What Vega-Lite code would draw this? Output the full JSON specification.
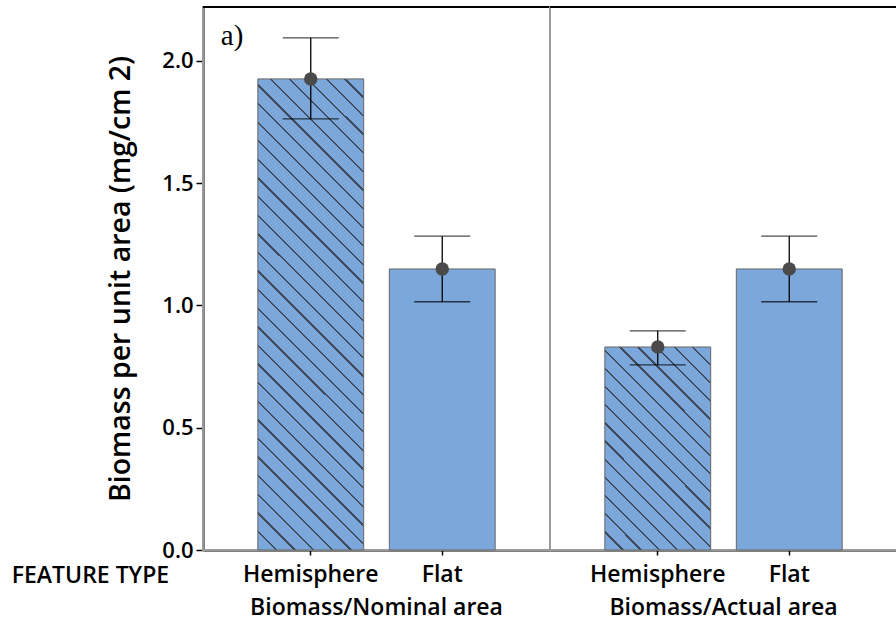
{
  "$schema": "https://vega.github.io/schema/vega-lite/v6.json",
  "padding": {"left": 10, "top": 5, "right": 0, "bottom": 5},
  "bounds": "flush",
  "data": {"values": [
    {"group": "Biomass/Nominal area", "type": "Hemisphere", "mean": 1.926, "lower": 1.763, "upper": 2.094},
    {"group": "Biomass/Nominal area", "type": "Flat", "mean": 1.149, "lower": 1.015, "upper": 1.283},
    {"group": "Biomass/Actual area", "type": "Hemisphere", "mean": 0.830, "lower": 0.757, "upper": 0.896},
    {"group": "Biomass/Actual area", "type": "Flat", "mean": 1.149, "lower": 1.015, "upper": 1.283}
  ]},
  "facet": {"column": {"field": "group", "type": "nominal", "sort": ["Biomass/Nominal area", "Biomass/Actual area"],
    "header": {"labelOrient": "bottom", "title": null, "labelFont": "Open Sans", "labelFontSize": 23, "labelFontWeight": 600, "labelColor": "black", "labelPadding": 11}}},
  "spacing": 0,
  "spec": {
    "width": 347,
    "height": 543,
    "encoding": {
      "x": {"field": "type", "type": "nominal", "sort": ["Hemisphere", "Flat"], "title": null,
        "scale": {"paddingInner": 0.195, "paddingOuter": 0.417}}
    },
    "layer": [
      {"transform": [{"filter": "datum.type === 'Flat'"}],
       "mark": {"type": "bar", "fill": "#7BA7DA", "stroke": "#666666", "strokeWidth": 1},
       "encoding": {"y": {"field": "mean", "type": "quantitative", "title": "Biomass per unit area (mg/cm 2)",
         "scale": {"domain": [0, 2.22], "nice": false}, "axis": {"values": [0, 0.5, 1, 1.5, 2], "format": ".1f"}}}},
      {"transform": [{"filter": "datum.type === 'Hemisphere' && datum.group === 'Biomass/Nominal area'"}],
       "mark": {"type": "bar", "stroke": "#666666", "strokeWidth": 1,
         "fill": {"gradient": "linear", "x1": 0, "y1": 1, "x2": 0.2617, "y2": -0.1656, "stops": [
{"offset":0,"color":"#7BA7DA"},
{"offset":0.0303,"color":"#7BA7DA"},{"offset":0.0303,"color":"#3E4A5E"},{"offset":0.0343,"color":"#3E4A5E"},{"offset":0.0343,"color":"#7BA7DA"},
{"offset":0.0625,"color":"#7BA7DA"},{"offset":0.0625,"color":"#3E4A5E"},{"offset":0.0665,"color":"#3E4A5E"},{"offset":0.0665,"color":"#7BA7DA"},
{"offset":0.0948,"color":"#7BA7DA"},{"offset":0.0948,"color":"#3E4A5E"},{"offset":0.0988,"color":"#3E4A5E"},{"offset":0.0988,"color":"#7BA7DA"},
{"offset":0.1270,"color":"#7BA7DA"},{"offset":0.1270,"color":"#3E4A5E"},{"offset":0.1310,"color":"#3E4A5E"},{"offset":0.1310,"color":"#7BA7DA"},
{"offset":0.1593,"color":"#7BA7DA"},{"offset":0.1593,"color":"#3E4A5E"},{"offset":0.1633,"color":"#3E4A5E"},{"offset":0.1633,"color":"#7BA7DA"},
{"offset":0.1915,"color":"#7BA7DA"},{"offset":0.1915,"color":"#3E4A5E"},{"offset":0.1955,"color":"#3E4A5E"},{"offset":0.1955,"color":"#7BA7DA"},
{"offset":0.2238,"color":"#7BA7DA"},{"offset":0.2238,"color":"#3E4A5E"},{"offset":0.2278,"color":"#3E4A5E"},{"offset":0.2278,"color":"#7BA7DA"},
{"offset":0.2561,"color":"#7BA7DA"},{"offset":0.2561,"color":"#3E4A5E"},{"offset":0.2601,"color":"#3E4A5E"},{"offset":0.2601,"color":"#7BA7DA"},
{"offset":0.2883,"color":"#7BA7DA"},{"offset":0.2883,"color":"#3E4A5E"},{"offset":0.2923,"color":"#3E4A5E"},{"offset":0.2923,"color":"#7BA7DA"},
{"offset":0.3206,"color":"#7BA7DA"},{"offset":0.3206,"color":"#3E4A5E"},{"offset":0.3246,"color":"#3E4A5E"},{"offset":0.3246,"color":"#7BA7DA"},
{"offset":0.3528,"color":"#7BA7DA"},{"offset":0.3528,"color":"#3E4A5E"},{"offset":0.3568,"color":"#3E4A5E"},{"offset":0.3568,"color":"#7BA7DA"},
{"offset":0.3851,"color":"#7BA7DA"},{"offset":0.3851,"color":"#3E4A5E"},{"offset":0.3891,"color":"#3E4A5E"},{"offset":0.3891,"color":"#7BA7DA"},
{"offset":0.4174,"color":"#7BA7DA"},{"offset":0.4174,"color":"#3E4A5E"},{"offset":0.4214,"color":"#3E4A5E"},{"offset":0.4214,"color":"#7BA7DA"},
{"offset":0.4496,"color":"#7BA7DA"},{"offset":0.4496,"color":"#3E4A5E"},{"offset":0.4536,"color":"#3E4A5E"},{"offset":0.4536,"color":"#7BA7DA"},
{"offset":0.4819,"color":"#7BA7DA"},{"offset":0.4819,"color":"#3E4A5E"},{"offset":0.4859,"color":"#3E4A5E"},{"offset":0.4859,"color":"#7BA7DA"},
{"offset":0.5141,"color":"#7BA7DA"},{"offset":0.5141,"color":"#3E4A5E"},{"offset":0.5181,"color":"#3E4A5E"},{"offset":0.5181,"color":"#7BA7DA"},
{"offset":0.5464,"color":"#7BA7DA"},{"offset":0.5464,"color":"#3E4A5E"},{"offset":0.5504,"color":"#3E4A5E"},{"offset":0.5504,"color":"#7BA7DA"},
{"offset":0.5786,"color":"#7BA7DA"},{"offset":0.5786,"color":"#3E4A5E"},{"offset":0.5826,"color":"#3E4A5E"},{"offset":0.5826,"color":"#7BA7DA"},
{"offset":0.6109,"color":"#7BA7DA"},{"offset":0.6109,"color":"#3E4A5E"},{"offset":0.6149,"color":"#3E4A5E"},{"offset":0.6149,"color":"#7BA7DA"},
{"offset":0.6432,"color":"#7BA7DA"},{"offset":0.6432,"color":"#3E4A5E"},{"offset":0.6472,"color":"#3E4A5E"},{"offset":0.6472,"color":"#7BA7DA"},
{"offset":0.6754,"color":"#7BA7DA"},{"offset":0.6754,"color":"#3E4A5E"},{"offset":0.6794,"color":"#3E4A5E"},{"offset":0.6794,"color":"#7BA7DA"},
{"offset":0.7077,"color":"#7BA7DA"},{"offset":0.7077,"color":"#3E4A5E"},{"offset":0.7117,"color":"#3E4A5E"},{"offset":0.7117,"color":"#7BA7DA"},
{"offset":0.7399,"color":"#7BA7DA"},{"offset":0.7399,"color":"#3E4A5E"},{"offset":0.7439,"color":"#3E4A5E"},{"offset":0.7439,"color":"#7BA7DA"},
{"offset":0.7722,"color":"#7BA7DA"},{"offset":0.7722,"color":"#3E4A5E"},{"offset":0.7762,"color":"#3E4A5E"},{"offset":0.7762,"color":"#7BA7DA"},
{"offset":0.8045,"color":"#7BA7DA"},{"offset":0.8045,"color":"#3E4A5E"},{"offset":0.8085,"color":"#3E4A5E"},{"offset":0.8085,"color":"#7BA7DA"},
{"offset":0.8367,"color":"#7BA7DA"},{"offset":0.8367,"color":"#3E4A5E"},{"offset":0.8407,"color":"#3E4A5E"},{"offset":0.8407,"color":"#7BA7DA"},
{"offset":0.8690,"color":"#7BA7DA"},{"offset":0.8690,"color":"#3E4A5E"},{"offset":0.8730,"color":"#3E4A5E"},{"offset":0.8730,"color":"#7BA7DA"},
{"offset":0.9012,"color":"#7BA7DA"},{"offset":0.9012,"color":"#3E4A5E"},{"offset":0.9052,"color":"#3E4A5E"},{"offset":0.9052,"color":"#7BA7DA"},
{"offset":0.9335,"color":"#7BA7DA"},{"offset":0.9335,"color":"#3E4A5E"},{"offset":0.9375,"color":"#3E4A5E"},{"offset":0.9375,"color":"#7BA7DA"},
{"offset":0.9657,"color":"#7BA7DA"},{"offset":0.9657,"color":"#3E4A5E"},{"offset":0.9697,"color":"#3E4A5E"},{"offset":0.9697,"color":"#7BA7DA"},
{"offset":1,"color":"#7BA7DA"}]}},
       "encoding": {"y": {"field": "mean", "type": "quantitative", "title": "Biomass per unit area (mg/cm 2)"}}},
      {"transform": [{"filter": "datum.type === 'Hemisphere' && datum.group === 'Biomass/Actual area'"}],
       "mark": {"type": "bar", "stroke": "#666666", "strokeWidth": 1,
         "fill": {"gradient": "linear", "x1": 0, "y1": 1, "x2": 0.6245, "y2": -0.1961, "stops": [
{"offset":0,"color":"#7BA7DA"},
{"offset":0.0551,"color":"#7BA7DA"},{"offset":0.0551,"color":"#3E4A5E"},{"offset":0.0625,"color":"#3E4A5E"},{"offset":0.0625,"color":"#7BA7DA"},
{"offset":0.1139,"color":"#7BA7DA"},{"offset":0.1139,"color":"#3E4A5E"},{"offset":0.1213,"color":"#3E4A5E"},{"offset":0.1213,"color":"#7BA7DA"},
{"offset":0.1728,"color":"#7BA7DA"},{"offset":0.1728,"color":"#3E4A5E"},{"offset":0.1802,"color":"#3E4A5E"},{"offset":0.1802,"color":"#7BA7DA"},
{"offset":0.2316,"color":"#7BA7DA"},{"offset":0.2316,"color":"#3E4A5E"},{"offset":0.2390,"color":"#3E4A5E"},{"offset":0.2390,"color":"#7BA7DA"},
{"offset":0.2904,"color":"#7BA7DA"},{"offset":0.2904,"color":"#3E4A5E"},{"offset":0.2978,"color":"#3E4A5E"},{"offset":0.2978,"color":"#7BA7DA"},
{"offset":0.3492,"color":"#7BA7DA"},{"offset":0.3492,"color":"#3E4A5E"},{"offset":0.3566,"color":"#3E4A5E"},{"offset":0.3566,"color":"#7BA7DA"},
{"offset":0.4081,"color":"#7BA7DA"},{"offset":0.4081,"color":"#3E4A5E"},{"offset":0.4155,"color":"#3E4A5E"},{"offset":0.4155,"color":"#7BA7DA"},
{"offset":0.4669,"color":"#7BA7DA"},{"offset":0.4669,"color":"#3E4A5E"},{"offset":0.4743,"color":"#3E4A5E"},{"offset":0.4743,"color":"#7BA7DA"},
{"offset":0.5257,"color":"#7BA7DA"},{"offset":0.5257,"color":"#3E4A5E"},{"offset":0.5331,"color":"#3E4A5E"},{"offset":0.5331,"color":"#7BA7DA"},
{"offset":0.5845,"color":"#7BA7DA"},{"offset":0.5845,"color":"#3E4A5E"},{"offset":0.5919,"color":"#3E4A5E"},{"offset":0.5919,"color":"#7BA7DA"},
{"offset":0.6434,"color":"#7BA7DA"},{"offset":0.6434,"color":"#3E4A5E"},{"offset":0.6508,"color":"#3E4A5E"},{"offset":0.6508,"color":"#7BA7DA"},
{"offset":0.7022,"color":"#7BA7DA"},{"offset":0.7022,"color":"#3E4A5E"},{"offset":0.7096,"color":"#3E4A5E"},{"offset":0.7096,"color":"#7BA7DA"},
{"offset":0.7610,"color":"#7BA7DA"},{"offset":0.7610,"color":"#3E4A5E"},{"offset":0.7684,"color":"#3E4A5E"},{"offset":0.7684,"color":"#7BA7DA"},
{"offset":0.8198,"color":"#7BA7DA"},{"offset":0.8198,"color":"#3E4A5E"},{"offset":0.8272,"color":"#3E4A5E"},{"offset":0.8272,"color":"#7BA7DA"},
{"offset":0.8787,"color":"#7BA7DA"},{"offset":0.8787,"color":"#3E4A5E"},{"offset":0.8861,"color":"#3E4A5E"},{"offset":0.8861,"color":"#7BA7DA"},
{"offset":0.9375,"color":"#7BA7DA"},{"offset":0.9375,"color":"#3E4A5E"},{"offset":0.9449,"color":"#3E4A5E"},{"offset":0.9449,"color":"#7BA7DA"},
{"offset":1,"color":"#7BA7DA"}]}},
       "encoding": {"y": {"field": "mean", "type": "quantitative", "title": "Biomass per unit area (mg/cm 2)"}}},
      {"mark": {"type": "rule", "color": "black", "strokeWidth": 2},
       "encoding": {"x": null, "y": {"datum": 2.22}}},
      {"mark": {"type": "rule", "color": "black", "strokeWidth": 1.3},
       "encoding": {"y": {"field": "lower", "type": "quantitative", "title": "Biomass per unit area (mg/cm 2)"}, "y2": {"field": "upper"}}},
      {"mark": {"type": "tick", "color": "black", "orient": "horizontal", "size": 56, "thickness": 1.3},
       "encoding": {"y": {"field": "upper", "type": "quantitative", "title": "Biomass per unit area (mg/cm 2)"}}},
      {"mark": {"type": "tick", "color": "black", "orient": "horizontal", "size": 56, "thickness": 1.3},
       "encoding": {"y": {"field": "lower", "type": "quantitative", "title": "Biomass per unit area (mg/cm 2)"}}},
      {"mark": {"type": "point", "shape": "circle", "filled": true, "size": 180, "color": "#4A4A4A", "opacity": 1},
       "encoding": {"y": {"field": "mean", "type": "quantitative", "title": "Biomass per unit area (mg/cm 2)"}}},
      {"transform": [{"filter": "datum.type === 'Hemisphere' && datum.group === 'Biomass/Nominal area'"}],
       "mark": {"type": "text", "text": "a)", "font": "Liberation Serif", "fontSize": 29, "align": "left", "baseline": "alphabetic", "dx": -90, "color": "black"},
       "encoding": {"y": {"datum": 2.065}}},
      {"transform": [{"filter": "datum.type === 'Hemisphere' && datum.group === 'Biomass/Nominal area'"}],
       "mark": {"type": "text", "text": "FEATURE TYPE", "font": "Open Sans", "fontSize": 23, "fontWeight": 600, "align": "left", "baseline": "alphabetic", "dx": -299, "dy": 33, "color": "black"},
       "encoding": {"y": {"datum": 0}}}
    ]
  },
  "config": {
    "font": "Open Sans",
    "view": {"stroke": "#999999", "strokeWidth": 2},
    "axisY": {"grid": false, "domainColor": "black", "domainWidth": 2,
      "tickColor": "black", "tickWidth": 1.5, "tickSize": 7, "labelFont": "Open Sans", "labelFontSize": 22, "labelFontWeight": 600, "labelColor": "black",
      "labelPadding": 3, "titleFont": "Open Sans", "titleFontSize": 28.5, "titleFontWeight": 600, "titleColor": "black", "titlePadding": 26},
    "axisX": {"grid": false, "domainColor": "black", "domainWidth": 2, "tickColor": "black", "tickWidth": 1.5, "tickSize": 5,
      "labelFont": "Open Sans", "labelFontSize": 23, "labelFontWeight": 600, "labelColor": "black", "labelAngle": 0, "labelPadding": 8}
  }
}
